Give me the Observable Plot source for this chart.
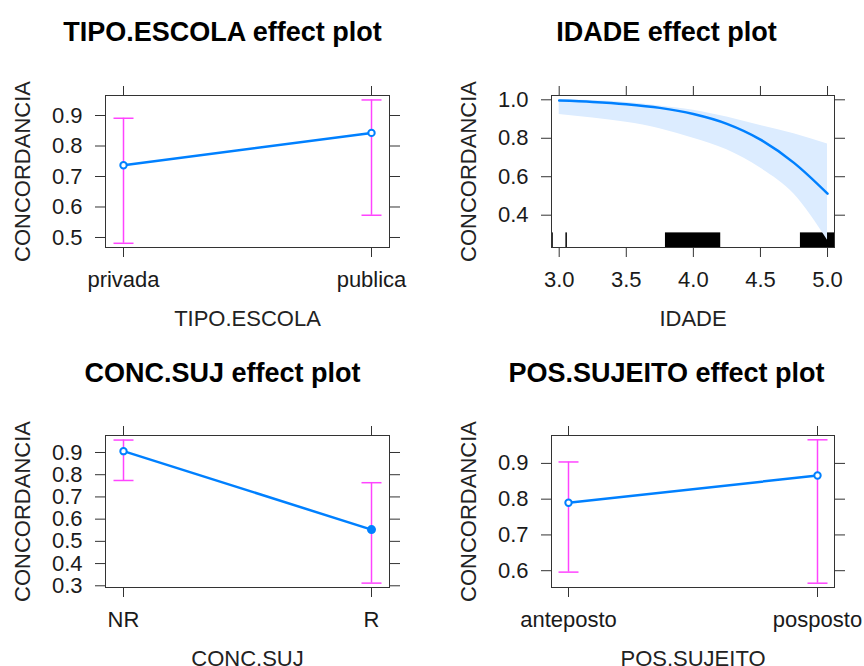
<!DOCTYPE html>
<html><head><meta charset="utf-8">
<script src="https://cdn.jsdelivr.net/npm/d3@7"></script>
<script src="https://cdn.jsdelivr.net/npm/@observablehq/plot@0.6"></script>
<style>
body{margin:0;background:#fff;}
#chart{position:relative;width:864px;height:666px;overflow:hidden;background:#fff;}
#chart > svg{position:absolute;}
</style></head><body><div id="chart"></div>
<script>
const yLabel = "CONCORDANCIA";

// Panel 1: TIPO.ESCOLA
const tipoTitle = "TIPO.ESCOLA effect plot";
const tipoLabel = "TIPO.ESCOLA";
const tipoCats = ["privada", "publica"];
const tipoFit = [0.737, 0.843];
const tipoLower = [0.481, 0.573];
const tipoUpper = [0.891, 0.951];
const tipoFilled = [false, false];
const tipoYTicks = [0.5, 0.6, 0.7, 0.8, 0.9];

// Panel 2: IDADE
const idadeTitle = "IDADE effect plot";
const idadeLabel = "IDADE";
const idadeX = [3.0, 3.25, 3.5, 3.75, 4.0, 4.25, 4.5, 4.75, 5.0];
const idadeFit = [0.996, 0.989, 0.977, 0.958, 0.926, 0.875, 0.793, 0.672, 0.512];
const idadeLower = [0.924, 0.905, 0.883, 0.85, 0.80, 0.74, 0.645, 0.51, 0.27];
const idadeUpper = [1.0, 0.997, 0.986, 0.968, 0.946, 0.91, 0.866, 0.823, 0.77];
const idadeRugStart = [2.945, 3.050, 3.792, 4.798];
const idadeRugEnd = [2.956, 3.061, 4.204, 5.052];
const idadeXTicks = [3.0, 3.5, 4.0, 4.5, 5.0];
const idadeYTicks = [0.4, 0.6, 0.8, 1.0];

// Panel 3: CONC.SUJ
const concTitle = "CONC.SUJ effect plot";
const concLabel = "CONC.SUJ";
const concCats = ["NR", "R"];
const concFit = [0.906, 0.553];
const concLower = [0.774, 0.312];
const concUpper = [0.956, 0.764];
const concFilled = [false, true];
const concYTicks = [0.3, 0.4, 0.5, 0.6, 0.7, 0.8, 0.9];

// Panel 4: POS.SUJEITO
const posTitle = "POS.SUJEITO effect plot";
const posLabel = "POS.SUJEITO";
const posCats = ["anteposto", "posposto"];
const posFit = [0.790, 0.866];
const posLower = [0.596, 0.565];
const posUpper = [0.904, 0.966];
const posFilled = [false, false];
const posYTicks = [0.6, 0.7, 0.8, 0.9];

const BLUE = "#0080ff";
const PINK = "#ff44ff";
const BAND = "#dcecff";
const FRAME = "#333333";
const FONT = "'Liberation Sans', Arial, Helvetica, sans-serif";
const fmt = d3.format(".1f");

const capSymbol = {
  draw(context, size) {
    const w = Math.sqrt(size / Math.PI);
    context.moveTo(-w, 0);
    context.lineTo(w, 0);
  }
};

function textMarks(layout, title, xLabel) {
  return [
    Plot.text([title], {text: d => d, frameAnchor: "top-left", dx: layout.titleX - layout.ml, dy: layout.titleDy,
      textAnchor: "middle", lineAnchor: "bottom", fontWeight: "bold", fontSize: 27, fill: "#000"}),
    Plot.text([xLabel], {text: d => d, frameAnchor: "bottom", dy: 78, lineAnchor: "bottom",
      textAnchor: "middle", fontSize: 22, fill: "#222"}),
    Plot.text([yLabel], {text: d => d, frameAnchor: "left", dx: -83, rotate: -90,
      textAnchor: "middle", lineAnchor: "middle", fontSize: 22, fill: "#222"})
  ];
}

function axes(xOpts, yTicks) {
  return [
    Plot.axisX({anchor: "bottom", tickSize: 10, tickPadding: 14, label: null, stroke: FRAME, fill: "#1a1a1a", ...xOpts}),
    Plot.axisX({...xOpts, anchor: "top", tickSize: 10, tickFormat: () => "", label: null, stroke: FRAME}),
    Plot.axisY({anchor: "left", ticks: yTicks, tickSize: 10, tickPadding: 13, tickFormat: fmt, label: null, stroke: FRAME, fill: "#1a1a1a"}),
    Plot.axisY({anchor: "right", ticks: yTicks, tickSize: 10, tickFormat: () => "", label: null, stroke: FRAME})
  ];
}

function catPanel(layout, title, xLabel, cats, fit, lower, upper, filled, yTicks, yDomain) {
  const data = cats.map((c, i) => ({cat: c, fit: fit[i], lo: lower[i], hi: upper[i], filled: filled[i]}));
  return Plot.plot({
    width: 432, height: 333,
    marginLeft: layout.ml, marginRight: layout.mr, marginTop: layout.mt, marginBottom: layout.mb,
    style: {fontFamily: FONT, fontSize: "22px", color: "#1a1a1a", background: "transparent", overflow: "visible"},
    x: {type: "point", domain: cats, padding: 0, inset: layout.inset},
    y: {domain: yDomain},
    marks: [
      ...axes({}, yTicks),
      Plot.ruleX(data, {x: "cat", y1: "lo", y2: "hi", stroke: PINK, strokeWidth: 1.5}),
      Plot.dot(data, {x: "cat", y: "lo", symbol: capSymbol, r: 10, stroke: PINK, strokeWidth: 1.5}),
      Plot.dot(data, {x: "cat", y: "hi", symbol: capSymbol, r: 10, stroke: PINK, strokeWidth: 1.5}),
      Plot.line(data, {x: "cat", y: "fit", stroke: BLUE, strokeWidth: 2.5}),
      Plot.dot(data.filter(d => !d.filled), {x: "cat", y: "fit", r: 3.2, stroke: BLUE, strokeWidth: 2, fill: "white"}),
      Plot.dot(data.filter(d => d.filled), {x: "cat", y: "fit", r: 4.5, fill: BLUE}),
      Plot.frame({stroke: FRAME, strokeWidth: 1}),
      ...textMarks(layout, title, xLabel)
    ]
  });
}

function idadePanel(layout) {
  const data = idadeX.map((x, i) => ({x, fit: idadeFit[i], lo: idadeLower[i], hi: idadeUpper[i]}));
  const rug = idadeRugStart.map((s, i) => ({x1: s, x2: idadeRugEnd[i]}));
  const yDomain = [0.232, 1.0224];
  return Plot.plot({
    width: 432, height: 333,
    marginLeft: layout.ml, marginRight: layout.mr, marginTop: layout.mt, marginBottom: layout.mb,
    style: {fontFamily: FONT, fontSize: "22px", color: "#1a1a1a", background: "transparent", overflow: "visible"},
    x: {domain: [2.9426, 5.052]},
    y: {domain: yDomain},
    marks: [
      ...axes({ticks: idadeXTicks, tickFormat: fmt}, idadeYTicks),
      Plot.rect(rug, {x1: "x1", x2: "x2", y1: () => yDomain[0], y2: () => 0.308, fill: "#000"}),
      Plot.areaY(data, {x: "x", y1: "lo", y2: "hi", fill: BAND, curve: "monotone-x"}),
      Plot.line(data, {x: "x", y: "fit", stroke: BLUE, strokeWidth: 2.5, curve: "monotone-x"}),
      Plot.frame({stroke: FRAME, strokeWidth: 1}),
      ...textMarks(layout, idadeTitle, idadeLabel)
    ]
  });
}

const chart = document.getElementById("chart");
function place(svg, left, top) {
  svg.style.left = left + "px";
  svg.style.top = top + "px";
  chart.appendChild(svg);
}

place(catPanel({ml: 105, mr: 43, mt: 95, mb: 86, inset: 18, titleX: 222, titleDy: -54.6},
  tipoTitle, tipoLabel, tipoCats, tipoFit, tipoLower, tipoUpper, tipoFilled, tipoYTicks, [0.4672, 0.9656]), 0, 0);
place(idadePanel({ml: 119, mr: 30, mt: 95, mb: 86, titleX: 234, titleDy: -54.6}), 432, 0);
place(catPanel({ml: 105, mr: 43, mt: 102, mb: 79, inset: 18, titleX: 222, titleDy: -54},
  concTitle, concLabel, concCats, concFit, concLower, concUpper, concFilled, concYTicks, [0.2923, 0.9765]), 0, 333);
place(catPanel({ml: 119, mr: 30, mt: 102, mb: 79, inset: 17, titleX: 234, titleDy: -54},
  posTitle, posLabel, posCats, posFit, posLower, posUpper, posFilled, posYTicks, [0.553, 0.978]), 432, 333);
</script></body></html>
